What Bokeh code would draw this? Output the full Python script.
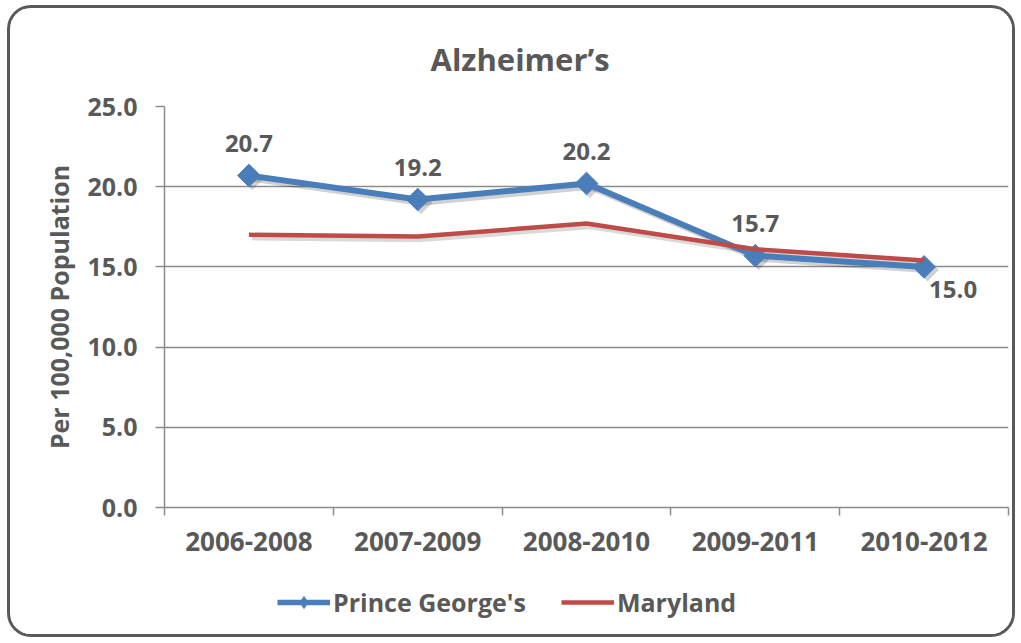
import math
from bokeh.plotting import figure
from bokeh.layouts import column
from bokeh.models import (Range1d, FixedTicker, Legend, LegendItem, Title,
                          NumeralTickFormatter)
from bokeh.core.properties import value
from bokeh.embed import file_html
from bokeh.resources import INLINE

# ---- data ----
chart_title = "Alzheimer’s"
periods = ["2006-2008", "2007-2009", "2008-2010", "2009-2011", "2010-2012"]
prince_georges = [20.7, 19.2, 20.2, 15.7, 15.0]
maryland = [17.0, 16.9, 17.7, 16.1, 15.4]
y_ticks = [0, 5, 10, 15, 20, 25]
y_label = "Per 100,000 Population"
series_names = ["Prince George's", "Maryland"]

FONT = "Open Sans"
TXT = "#595959"
GRID = "#8c8c8c"
BLUE = "#4a7ebb"
RED = "#be4b48"
EDGE = "3px solid #595959"

W = 1008
H_MAIN, H_LEG = 567, 65
n = len(periods)
xs = list(range(n))

p = figure(width=W, height=H_MAIN, output_backend="svg", toolbar_location=None,
           x_range=Range1d(-0.5, n - 0.5), y_range=Range1d(y_ticks[0], y_ticks[-1]),
           min_border_left=154, min_border_right=10, min_border_top=98,
           min_border_bottom=68)
p.styles = {"border-top": EDGE, "border-left": EDGE, "border-right": EDGE,
            "border-radius": "24px 24px 0 0", "overflow": "hidden",
            "background-color": "white"}
p.outline_line_color = None
p.background_fill_color = "white"
p.border_fill_color = "white"

# x axis
xa = p.xaxis[0]
xa.ticker = FixedTicker(ticks=xs, minor_ticks=[i - 0.5 for i in range(n + 1)])
xa.major_label_overrides = {i: lab for i, lab in zip(xs, periods)}
xa.major_tick_out = 0
xa.major_tick_in = 0
xa.minor_tick_out = 8
xa.minor_tick_in = 0
xa.minor_tick_line_color = GRID
xa.minor_tick_line_width = 1.5
xa.axis_line_color = GRID
xa.axis_line_width = 1.5
xa.major_label_text_font = FONT
xa.major_label_text_font_size = "26px"
xa.major_label_text_font_style = "bold"
xa.major_label_text_color = TXT
xa.major_label_standoff = 16

# y axis
ya = p.yaxis[0]
ya.ticker = FixedTicker(ticks=y_ticks)
ya.formatter = NumeralTickFormatter(format="0.0")
ya.major_tick_out = 9
ya.major_tick_in = 0
ya.minor_tick_out = 0
ya.minor_tick_in = 0
ya.major_tick_line_color = GRID
ya.major_tick_line_width = 1.5
ya.axis_line_color = GRID
ya.axis_line_width = 1.5
ya.major_label_text_font = FONT
ya.major_label_text_font_size = "25px"
ya.major_label_text_font_style = "bold"
ya.major_label_text_color = TXT
ya.major_label_standoff = 18
ya.axis_label = y_label
ya.axis_label_text_font = FONT
ya.axis_label_text_font_size = "25px"
ya.axis_label_text_font_style = "bold"
ya.axis_label_text_color = TXT
ya.axis_label_standoff = 8

p.xgrid.visible = False
p.ygrid.ticker = FixedTicker(ticks=y_ticks)
p.ygrid.grid_line_color = GRID
p.ygrid.grid_line_width = 1.5

# shadow ranges (small screen shift down-right)
dx = 0.02
dy = 0.2
p.extra_x_ranges = {"shx": Range1d(-0.5 - dx, n - 0.5 - dx)}
p.extra_y_ranges = {"shy": Range1d(y_ticks[0] + dy, y_ticks[-1] + dy)}

p.line(xs, prince_georges, line_color="black", line_alpha=0.18, line_width=6,
       x_range_name="shx", y_range_name="shy")
p.scatter(xs, prince_georges, marker="square", angle=math.pi / 4, size=16,
          fill_color="black", fill_alpha=0.18, line_alpha=0,
          x_range_name="shx", y_range_name="shy")
p.line(xs, maryland, line_color="black", line_alpha=0.15, line_width=5,
       x_range_name="shx", y_range_name="shy")

p.line(xs, prince_georges, line_color=BLUE, line_width=6)
p.scatter(xs, prince_georges, marker="square", angle=math.pi / 4, size=16,
          fill_color=BLUE, line_color=BLUE)
p.line(xs, maryland, line_color=RED, line_width=4.5)

# data labels (last one sits below-right of its point)
lab_dx = [0] * (n - 1) + [29]
lab_dy = [-32] * (n - 1) + [23]
p.text(xs, prince_georges, text=[f"{v:.1f}" for v in prince_georges],
       x_offset=lab_dx, y_offset=lab_dy,
       text_align="center", text_baseline="middle",
       text_font=value(FONT), text_font_size="24px", text_font_style="bold",
       text_color=TXT)

# title
p.title = Title(text=chart_title, align="left", offset=266, standoff=53,
                text_font=FONT, text_font_size="31px", text_font_style="bold",
                text_color=TXT)

# legend strip (separate panel below, same chart border); its ranges keep the
# sample series out of view so only the legend shows
lf = figure(width=W, height=H_LEG, output_backend="svg", toolbar_location=None,
            x_axis_location=None, y_axis_location=None,
            x_range=Range1d(-0.5, n - 0.5), y_range=Range1d(1000, 1001),
            min_border_left=154, min_border_right=10, min_border_top=0,
            min_border_bottom=0)
lf.styles = {"border-bottom": EDGE, "border-left": EDGE, "border-right": EDGE,
             "border-radius": "0 0 24px 24px", "overflow": "hidden",
             "background-color": "white"}
lf.outline_line_color = None
lf.xgrid.visible = False
lf.ygrid.visible = False
lg_pg_line = lf.line(xs, prince_georges, line_color=BLUE, line_width=5.5)
lg_pg_mark = lf.scatter(xs, prince_georges, marker="diamond", size=19,
                        fill_color=BLUE, line_color=BLUE)
lg_md_line = lf.line(xs, maryland, line_color=RED, line_width=4.5)

legend = Legend(items=[LegendItem(label=series_names[0], renderers=[lg_pg_line, lg_pg_mark]),
                       LegendItem(label=series_names[1], renderers=[lg_md_line])],
                orientation="horizontal", location=(113, 18),
                glyph_width=53, glyph_height=30, label_height=30,
                label_standoff=3, spacing=35, padding=0, margin=0,
                border_line_alpha=0, background_fill_alpha=0,
                label_text_font=FONT, label_text_font_size="25px",
                label_text_font_style="bold", label_text_color=TXT)
lf.add_layout(legend)

layout = column(p, lf, spacing=0)
layout.styles = {"margin-left": "7px", "margin-top": "5px"}

open("out.html", "w").write(file_html(layout, INLINE))
